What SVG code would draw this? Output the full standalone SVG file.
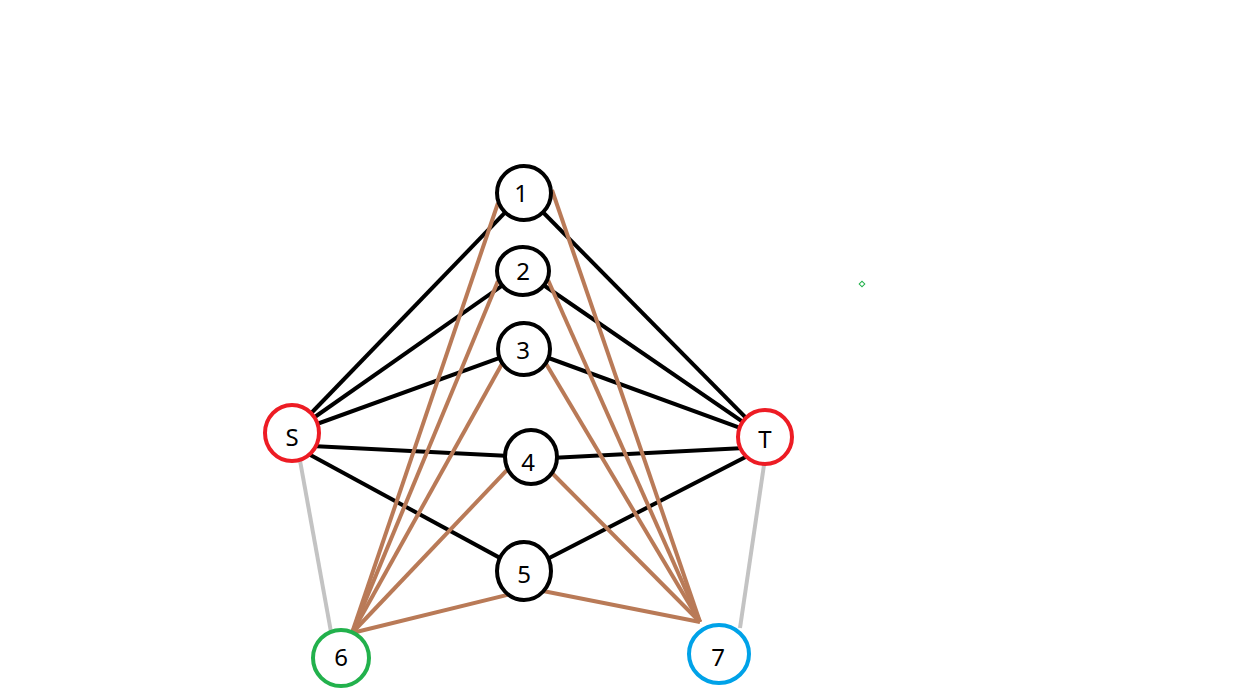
<svg xmlns="http://www.w3.org/2000/svg" width="1235" height="699" viewBox="0 0 1235 699">
<style>
.b{stroke:#000;stroke-width:4;fill:none}
.o{stroke:#b97a57;stroke-width:4;fill:none}
.g{stroke:#c3c3c3;stroke-width:4;fill:none}
.n{fill:#fff;stroke-width:4}
.k{stroke:#000}
.r{stroke:#ed1c24}
.gr{stroke:#22b14c}
.bl{stroke:#00a2e8}
text{font-family:"Noto Sans","DejaVu Sans",sans-serif;font-size:24px;fill:#000;text-anchor:middle;dominant-baseline:central}
</style>
<rect width="1235" height="699" fill="#fff"/>
<g id="connectors">
<line class="b" x1="292" y1="433" x2="524" y2="193"/>
<line class="b" x1="292" y1="433" x2="523" y2="271"/>
<line class="b" x1="292" y1="433" x2="524" y2="349"/>
<line class="b" x1="292" y1="445" x2="531" y2="457"/>
<line class="b" x1="292" y1="445" x2="524" y2="571"/>
<line class="b" x1="765" y1="437" x2="524" y2="193"/>
<line class="b" x1="765" y1="437" x2="523" y2="271"/>
<line class="b" x1="765" y1="437" x2="524" y2="349"/>
<line class="b" x1="765" y1="447" x2="531" y2="459"/>
<line class="b" x1="765" y1="447" x2="524" y2="571"/>
<line class="g" x1="299" y1="455" x2="331" y2="632"/>
<line class="g" x1="764" y1="465" x2="740" y2="628"/>
<line class="o" x1="352" y1="633" x2="498" y2="203"/>
<line class="o" x1="352" y1="633" x2="498" y2="281"/>
<line class="o" x1="352" y1="633" x2="503" y2="362"/>
<line class="o" x1="352" y1="633" x2="509" y2="468"/>
<line class="o" x1="352" y1="633" x2="511" y2="594"/>
<line class="o" x1="700" y1="622" x2="552" y2="190"/>
<line class="o" x1="700" y1="622" x2="548" y2="280"/>
<line class="o" x1="700" y1="622" x2="545" y2="362"/>
<line class="o" x1="700" y1="622" x2="551" y2="472"/>
<line class="o" x1="700" y1="622" x2="543" y2="591"/>
</g>
<g id="n1"><ellipse class="n k" cx="524" cy="193" rx="27" ry="27"/><text x="521" y="192">1</text></g>
<g id="n2"><ellipse class="n k" cx="523" cy="271" rx="26" ry="24"/><text x="523" y="270">2</text></g>
<g id="n3"><ellipse class="n k" cx="524" cy="349" rx="26" ry="26"/><text x="523" y="349">3</text></g>
<g id="n4"><ellipse class="n k" cx="531" cy="457" rx="26" ry="27"/><text x="528" y="461">4</text></g>
<g id="n5"><ellipse class="n k" cx="524" cy="571" rx="27" ry="29"/><text x="524" y="573">5</text></g>
<g id="nS"><ellipse class="n r" cx="292" cy="433" rx="27" ry="28"/><text x="292" y="436">S</text></g>
<g id="nT"><ellipse class="n r" cx="765" cy="437" rx="27" ry="27"/><text x="765" y="438">T</text></g>
<g id="n6"><ellipse class="n gr" cx="341" cy="658" rx="28" ry="28"/><text x="341" y="656">6</text></g>
<g id="n7"><ellipse class="n bl" cx="719" cy="654" rx="30" ry="29"/><text x="718" y="656">7</text></g>
<rect x="860" y="282" width="4" height="4" fill="#fff" stroke="#22b14c" stroke-width="1" transform="rotate(45 862 284)"/>
</svg>
